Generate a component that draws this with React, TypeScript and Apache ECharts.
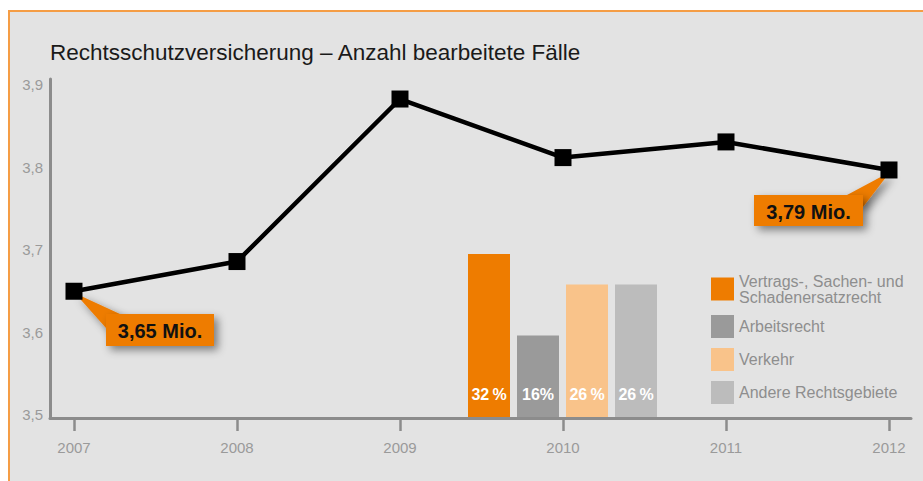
import React, { useEffect, useRef } from "react";
import * as echarts from "echarts";

// ---- data ----
const years = [2007, 2008, 2009, 2010, 2011, 2012];
const cases = [3.65, 3.686, 3.883, 3.812, 3.831, 3.797];
const yTicks = [3.5, 3.6, 3.7, 3.8, 3.9];
const shareNames = [
  "Vertrags-, Sachen- und\nSchadenersatzrecht",
  "Arbeitsrecht",
  "Verkehr",
  "Andere Rechtsgebiete",
];
const shareValues = [32, 16, 26, 26];
const shareLabels = ["32\u2009%", "16%", "26\u2009%", "26\u2009%"];
const calloutIndex = [0, 5];
const calloutText = ["3,65 Mio.", "3,79 Mio."];
const titleText = "Rechtsschutzversicherung – Anzahl bearbeitete Fälle";

// ---- styles ----
const FONT = '"Liberation Sans", Arial, Helvetica, sans-serif';
const shareColors = ["#ee7c00", "#9a9a9a", "#f9c38a", "#bcbcbc"];
const ORANGE = "#ee7c00";
const AXIS = "#8c8c8c";
const LABEL = "#9a9a9a";
// callout boxes: x, y, w, h, and pointer base points relative to box
const calloutBoxes = [
  { x: 106, y: 314, w: 108, h: 32, base: [[14, 0], [0, 14]] },
  { x: 754, y: 195, w: 109, h: 31, base: [[93, 0], [109, 12]] },
];

export default function App() {
  const ref = useRef<HTMLDivElement>(null);

  useEffect(() => {
    if (!ref.current) return;
    const chart = echarts.init(ref.current, null, { renderer: "svg" });

    const barSeries = shareNames.map((name, i) => ({
      type: "bar",
      name,
      xAxisIndex: 1,
      yAxisIndex: 1,
      data: [shareValues[i]],
      barWidth: 42,
      barGap: "16.67%",
      itemStyle: { color: shareColors[i] },
      label: {
        show: true,
        position: "insideBottom",
        distance: 15,
        formatter: shareLabels[i],
        color: "#ffffff",
        fontWeight: "bold",
        fontSize: 16,
        fontFamily: FONT,
      },
      z: 1,
    }));

    const option: any = {
      animation: false,
      backgroundColor: "transparent",
      textStyle: { fontFamily: FONT },
      title: {
        text: titleText,
        left: 50,
        top: 41,
        padding: 0,
        textStyle: {
          fontSize: 22.5,
          fontWeight: "normal",
          color: "#1a1a1a",
          fontFamily: FONT,
        },
      },
      grid: [
        { left: 50, right: 12, top: 79, bottom: 63 },
        { left: 468, width: 189, top: 254, bottom: 64 },
      ],
      xAxis: [
        {
          type: "value",
          gridIndex: 0,
          min: 2006.8528,
          max: 2012.135,
          splitLine: { show: false },
          axisLine: { show: true, lineStyle: { color: AXIS, width: 3 } },
          axisTick: {
            show: true,
            length: 13,
            customValues: years,
            lineStyle: { color: AXIS, width: 2.5 },
          },
          axisLabel: {
            customValues: years,
            formatter: (v: number) => String(Math.round(v)),
            color: LABEL,
            fontSize: 15,
            margin: 22,
            fontFamily: FONT,
          },
        },
        { type: "category", gridIndex: 1, data: ["Anteil"], show: false },
      ],
      yAxis: [
        {
          type: "value",
          gridIndex: 0,
          min: 3.49636,
          max: 3.90727,
          splitLine: { show: false },
          axisLine: { show: true, lineStyle: { color: AXIS, width: 3 } },
          axisTick: { show: false },
          axisLabel: {
            customValues: yTicks,
            formatter: (v: number) => v.toFixed(1).replace(".", ","),
            color: LABEL,
            fontSize: 15,
            margin: 7,
            fontFamily: FONT,
          },
        },
        { type: "value", gridIndex: 1, min: 0, max: 32, show: false },
      ],
      legend: {
        data: shareNames,
        orient: "vertical",
        left: 711,
        top: 273,
        padding: 0,
        itemWidth: 23,
        itemHeight: 23,
        itemGap: 10,
        icon: "rect",
        selectedMode: false,
        textStyle: {
          color: "#8e8e8e",
          fontSize: 16,
          lineHeight: 16,
          fontFamily: FONT,
        },
      },
      series: [
        ...barSeries,
        {
          type: "line",
          name: "Fälle",
          xAxisIndex: 0,
          yAxisIndex: 0,
          data: years.map((y, i) => [y, cases[i]]),
          symbol: "rect",
          symbolSize: 17,
          lineStyle: { color: "#000", width: 4.5 },
          itemStyle: { color: "#000" },
          z: 5,
        },
      ],
    };

    chart.setOption(option);

    const shadow = {
      shadowBlur: 8,
      shadowOffsetX: 4,
      shadowOffsetY: 4,
      shadowColor: "rgba(0,0,0,0.45)",
    };
    const graphics = calloutIndex.map((idx, k) => {
      const p = chart.convertToPixel({ gridIndex: 0 } as any, [years[idx], cases[idx]]) as number[];
      const b = calloutBoxes[k];
      return {
        type: "group",
        z: 20,
        children: [
          {
            type: "polygon",
            shape: {
              points: [
                [p[0] + 1, p[1] + 2],
                [b.x + b.base[0][0], b.y + b.base[0][1]],
                [b.x + b.base[1][0], b.y + b.base[1][1]],
              ],
            },
            style: { fill: ORANGE, ...shadow },
          },
          {
            type: "rect",
            shape: { x: b.x, y: b.y, width: b.w, height: b.h },
            style: { fill: ORANGE, ...shadow },
          },
          {
            type: "text",
            x: b.x + b.w / 2,
            y: b.y + b.h / 2 + 1,
            style: {
              text: calloutText[k],
              fill: "#111",
              font: `bold 20px ${FONT}`,
              align: "center",
              verticalAlign: "middle",
            },
          },
        ],
      };
    });
    chart.setOption({ graphic: graphics });

    return () => chart.dispose();
  }, []);

  return (
    <div
      style={{
        position: "fixed",
        left: 0,
        top: 0,
        width: 923,
        height: 481,
        background: "#ffffff",
        overflow: "hidden",
      }}
    >
      <div
        style={{
          position: "absolute",
          left: 8,
          top: 10,
          width: 960,
          height: 520,
          background: "#e3e3e3",
          borderLeft: "2px solid #f59d45",
          borderTop: "2px solid #f59d45",
        }}
      />
      <div
        ref={ref}
        style={{ position: "absolute", left: 0, top: 0, width: 923, height: 481 }}
      />
    </div>
  );
}
